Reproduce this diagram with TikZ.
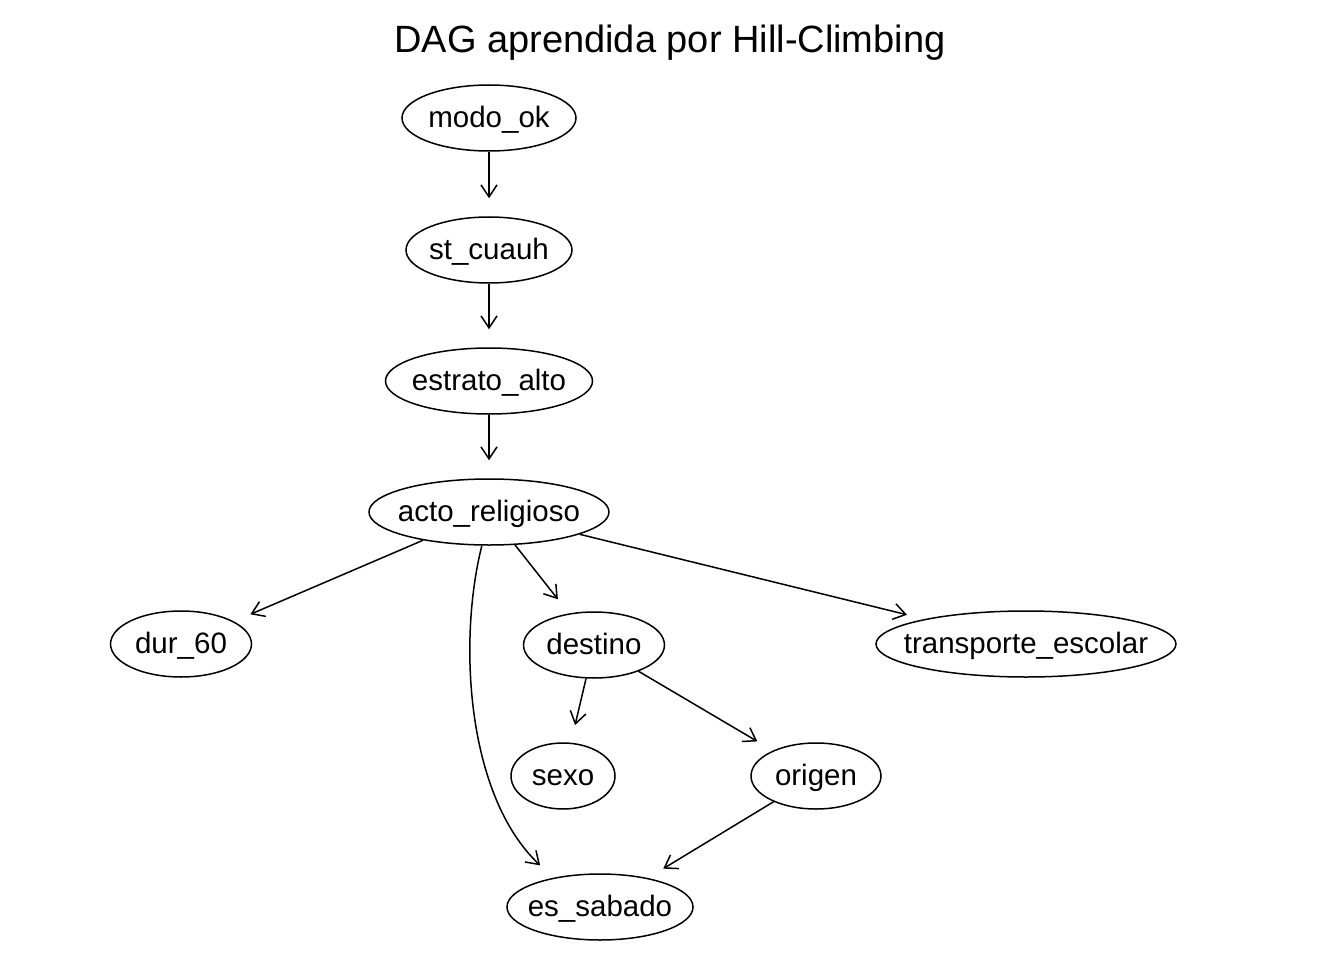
\documentclass[tikz,border=0pt]{standalone}
\usepackage{fontspec}
\setmainfont{Liberation Sans}
\usetikzlibrary{shapes,arrows.meta}

\begin{document}
\begin{tikzpicture}[x=1pt,y=-1pt]
		\tikzstyle {var node} = [draw, ellipse, line width=1.5pt, inner sep=0pt, minimum height=66pt, text height=19pt, text depth=0pt, font=\fontsize{29.5}{34}\selectfont]
		\tikzstyle {edge line} = [line width=1.5pt, -{Straight Barb[length=12pt,width=16pt]}, shorten >=18pt]

		\useasboundingbox (0,0) rectangle (1344,960);

		\node[font=\fontsize{38}{46}\selectfont, text height=25pt, text depth=0pt] (title) at (670,40) {DAG aprendida por Hill-Climbing};

		\foreach \n/\x/\y/\w/\lbl in {modo/489/118/174/modo\_ok, cuauh/489/250/166/st\_cuauh, estrato/489/381/207/estrato\_alto, acto/489/512/240/acto\_religioso, dur/181/644/141/dur\_60, destino/594/645/141/destino, transporte/1026/644/300/transporte\_escolar, sexo/563/776/104/sexo, origen/816/776/130/origen, sabado/600/907/186/es\_sabado}
		{
			\node[var node, minimum width=\w] (\n) at (\x,\y) {\makebox[0pt]{\lbl}};
		}

		\draw[edge line] (modo) -- (cuauh);
		\draw[edge line] (cuauh) -- (estrato);
		\draw[edge line] (estrato) -- (acto);
		\draw[edge line] (acto) -- (dur);
		\draw[edge line] (acto) -- (destino);
		\draw[edge line] (acto) -- (transporte);
		\draw[edge line] (acto.258) .. controls (458,640) and (466,795) .. (sabado.148);
		\draw[edge line] (destino) -- (sexo);
		\draw[edge line] (destino) -- (origen);
		\draw[edge line] (origen) -- (sabado);
	\end{tikzpicture}
\end{document}
